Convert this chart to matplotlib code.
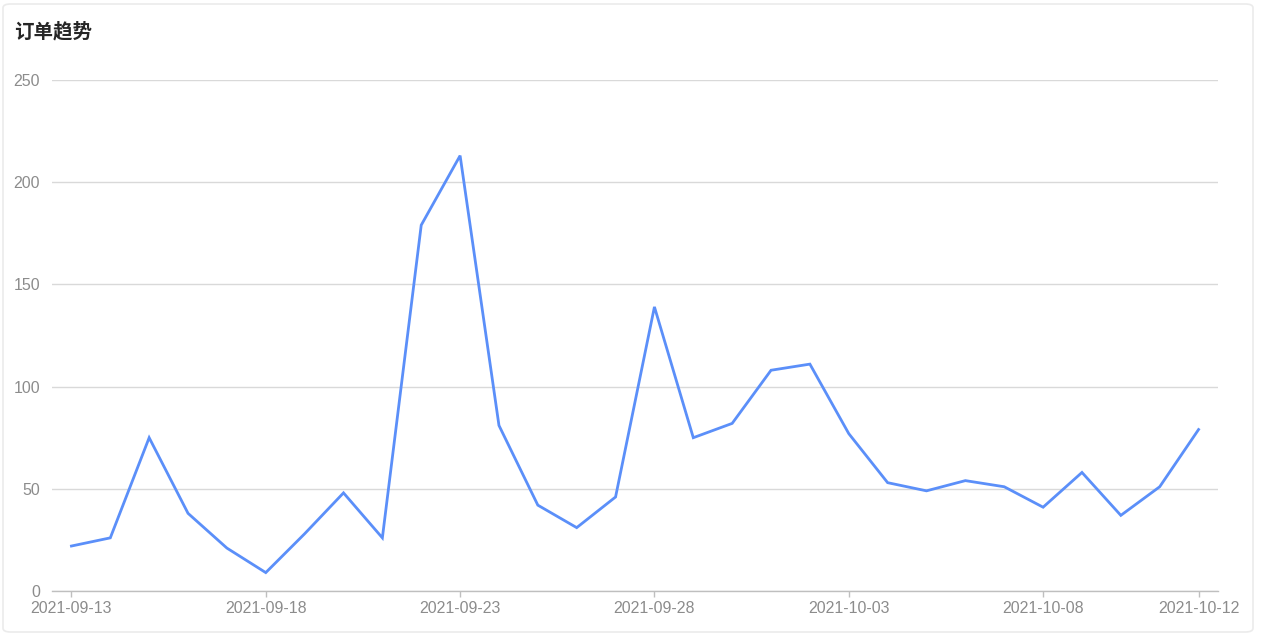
import matplotlib.pyplot as plt
from matplotlib.patches import FancyBboxPatch
import pandas as pd

plt.rcParams['font.family'] = ['Noto Sans CJK SC', 'DejaVu Sans']

# daily order counts
dates = pd.date_range("2021-09-13", "2021-10-12", freq="D")
orders = [22, 26, 75, 38, 21, 9, 28, 48, 26, 179,
          213, 81, 42, 31, 46, 139, 75, 82, 108, 111,
          77, 53, 49, 54, 51, 41, 58, 37, 51, 79]
tick_dates = ["2021-09-13", "2021-09-18", "2021-09-23", "2021-09-28",
              "2021-10-03", "2021-10-08", "2021-10-12"]
y_ticks = [0, 50, 100, 150, 200, 250]

fig = plt.figure(figsize=(12.68, 6.35), dpi=100)
fig.patch.set_facecolor("white")

# card background
card = FancyBboxPatch((3 / 1268, 3 / 635), 1250 / 1268, 628 / 635,
                      boxstyle="round,pad=0,rounding_size=0.006",
                      transform=fig.transFigure, facecolor="white",
                      edgecolor="#ebebeb", linewidth=1.2, zorder=-10)
fig.patches.append(card)

ax = fig.add_axes([52 / 1268, 1 - 591 / 635, (1218 - 52) / 1268, (591 - 80) / 635])
ax.set_facecolor("none")
ax.set_zorder(1)

x = list(range(len(dates)))
ax.plot(x, orders, color="#5B8FF9", linewidth=2, solid_joinstyle="miter", zorder=3)

ax.set_xlim(-0.5, len(dates) - 0.5)
ax.set_ylim(0, 250)

date_strs = [d.strftime("%Y-%m-%d") for d in dates]
ax.set_xticks([date_strs.index(t) for t in tick_dates])
ax.set_xticklabels(tick_dates, family="Liberation Sans")
ax.set_yticks(y_ticks)
ax.set_yticklabels([str(v) for v in y_ticks], family="Liberation Sans")

ax.grid(axis="y", color="#d9d9d9", linewidth=1)
ax.set_axisbelow(True)
for side in ["top", "right", "left"]:
    ax.spines[side].set_visible(False)
ax.spines["bottom"].set_color("#bfbfbf")
ax.spines["bottom"].set_linewidth(1)

ax.tick_params(axis="x", colors="#bfbfbf", labelcolor="#8c8c8c", length=4,
               width=1, labelsize=11.5, pad=3)
ax.tick_params(axis="y", length=0, labelcolor="#8c8c8c", labelsize=11.5, pad=8.5)

fig.text(14 / 1268, 1 - 32 / 635, "订单趋势", fontsize=14, color="#262626",
         fontweight="bold", va="center", ha="left")

fig.savefig("out.png", dpi=100)
